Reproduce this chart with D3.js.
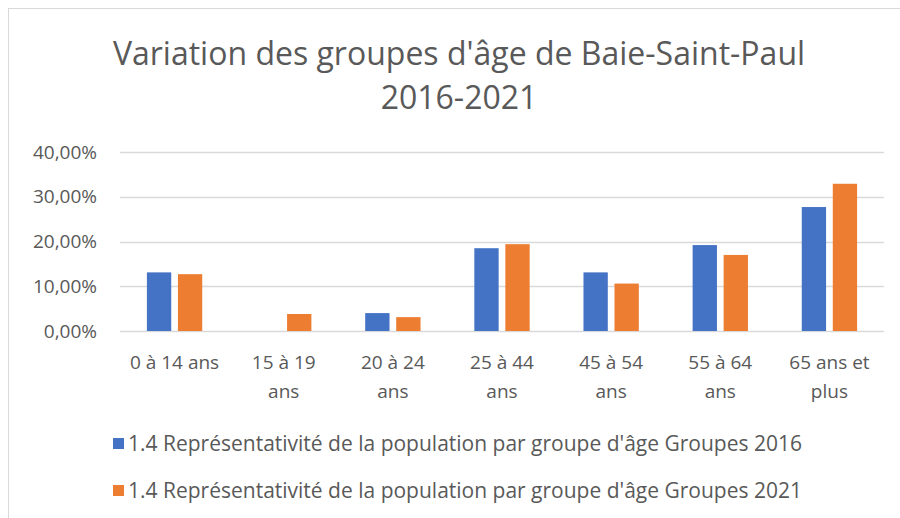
<!DOCTYPE html>
<html>
<head>
<meta charset="utf-8">
<script src="https://cdn.jsdelivr.net/npm/d3@7"></script>
<style>
  body { margin: 0; background: #fff; }
  text { font-family: "Open Sans", sans-serif; fill: #595959; }
</style>
</head>
<body>
<div id="chart-area"></div>
<script>
// data (percent)
var categories = ["0 à 14 ans", "15 à 19\nans", "20 à 24\nans", "25 à 44\nans", "45 à 54\nans", "55 à 64\nans", "65 ans et\nplus"];
var series = ["1.4 Représentativité de la population par groupe d'âge Groupes 2016",
              "1.4 Représentativité de la population par groupe d'âge Groupes 2021"];
var values2016 = [13.1, 0, 4.0, 18.5, 13.1, 19.2, 27.7];
var values2021 = [12.7, 3.8, 3.1, 19.4, 10.6, 17.0, 32.9];
var yTicks = [0, 10, 20, 30, 40];
var colors = ["#4472C4", "#ED7D31"];

var width = 900;
var height = 518;

var svg = d3.select("#chart-area")
    .append("svg")
    .attr("width", width)
    .attr("height", height);

// chart frame
svg.append("rect")
    .attr("x", 8.5)
    .attr("y", 8.5)
    .attr("width", width + 20)
    .attr("height", height + 20)
    .attr("fill", "none")
    .attr("stroke", "#D9D9D9");

// title
var title = svg.append("text")
    .attr("text-anchor", "middle")
    .attr("font-size", "32px");
title.append("tspan").attr("x", 459).attr("y", 65).text("Variation des groupes d'âge de Baie-Saint-Paul");
title.append("tspan").attr("x", 459).attr("y", 109).text("2016-2021");

var plot = { left: 120, right: 884, top: 152, bottom: 331 };

var x0 = d3.scaleBand()
    .domain(categories)
    .range([plot.left, plot.right])
    .padding(0);

var groupW = x0.bandwidth() * 0.507;
var x1 = d3.scaleBand()
    .domain([0, 1])
    .range([(x0.bandwidth() - groupW) / 2, (x0.bandwidth() + groupW) / 2])
    .paddingInner(0.216);

var y = d3.scaleLinear()
    .domain([0, 40])
    .range([plot.bottom, plot.top]);

// gridlines
svg.append("g")
    .selectAll("line")
    .data(yTicks)
    .enter()
    .append("line")
    .attr("x1", plot.left)
    .attr("x2", plot.right)
    .attr("y1", function(d) { return Math.round(y(d)) + 0.5; })
    .attr("y2", function(d) { return Math.round(y(d)) + 0.5; })
    .attr("stroke", "#D9D9D9")
    .attr("stroke-width", 1.5);

// y labels
var yAxis = d3.axisLeft(y)
    .tickValues(yTicks)
    .tickSize(0)
    .tickPadding(23)
    .tickFormat(function(d) { return d3.format(".2f")(d).replace(".", ",") + "%"; });

var yAxisGroup = svg.append("g")
    .attr("transform", "translate(" + plot.left + ",0)")
    .call(yAxis);
yAxisGroup.select(".domain").remove();
yAxisGroup.attr("font-family", null);
yAxisGroup.selectAll("text")
    .attr("font-size", "19px")
    .attr("fill", "#595959");

// bars
var rows = categories.map(function(c, i) {
    return { cat: c, vals: [values2016[i], values2021[i]] };
});

var groups = svg.append("g")
    .selectAll("g")
    .data(rows)
    .enter()
    .append("g")
    .attr("transform", function(d) { return "translate(" + x0(d.cat) + ",0)"; });

groups.selectAll("rect")
    .data(function(d) { return d.vals; })
    .enter()
    .append("rect")
    .attr("x", function(d, i) { return x1(i); })
    .attr("width", x1.bandwidth())
    .attr("y", function(d) { return y(d); })
    .attr("height", function(d) { return y(0) - y(d); })
    .attr("fill", function(d, i) { return colors[i]; });

// x labels
var xLabels = svg.append("g")
    .selectAll("text")
    .data(categories)
    .enter()
    .append("text")
    .attr("text-anchor", "middle")
    .attr("font-size", "19px");

xLabels.each(function(d) {
    var t = d3.select(this);
    var cx = x0(d) + x0.bandwidth() / 2;
    d.split("\n").forEach(function(line, k) {
        t.append("tspan")
            .attr("x", cx)
            .attr("y", 369 + k * 29)
            .text(line);
    });
});

// legend
var legend = svg.append("g")
    .selectAll("g")
    .data(series)
    .enter()
    .append("g")
    .attr("transform", function(d, i) { return "translate(113," + (444 + i * 47) + ")"; });

legend.append("rect")
    .attr("x", 0)
    .attr("y", -6)
    .attr("width", 11)
    .attr("height", 11)
    .attr("fill", function(d, i) { return colors[i]; });

legend.append("text")
    .attr("x", 15)
    .attr("y", 7)
    .attr("font-size", "21px")
    .text(function(d) { return d; });
</script>
</body>
</html>
